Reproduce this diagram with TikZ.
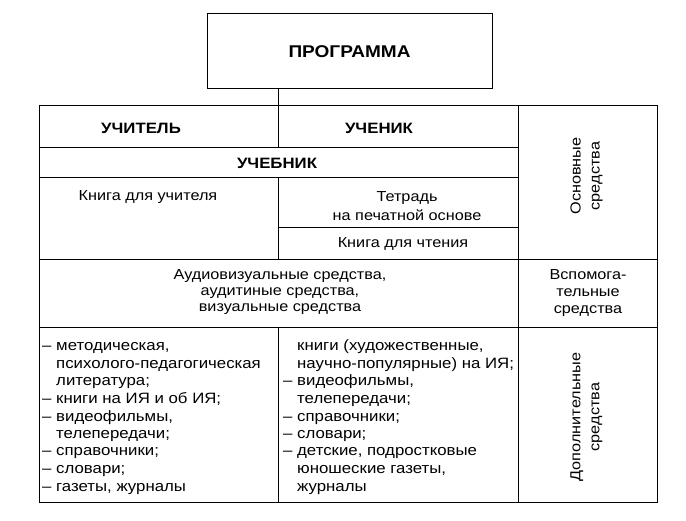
\documentclass[tikz,border=0pt]{standalone}
\usepackage{fontspec}
\setmainfont[FakeStretch=1.12]{Liberation Sans}
\newcommand\dsh{–\ }
\newcommand\ind{\phantom{–\ }}
\begin{document}
\begin{tikzpicture}[x=1pt,y=-1pt,
  ln/.style={line width=1pt,line cap=rect},
  txt/.style={font=\fontsize{14.5}{17}\selectfont,inner sep=0pt,anchor=base},
  lst/.style={font=\fontsize{15}{17}\selectfont,inner sep=0pt,anchor=base west},
  hdr/.style={font=\fontsize{15}{18}\selectfont\bfseries,inner sep=0pt,anchor=base},
  rot/.style={font=\fontsize{14.5}{19}\selectfont,inner sep=0pt,rotate=90,align=center}]
\useasboundingbox[fill=white] (0,0) rectangle (686,521);
% top box
\node[draw,line width=1pt,minimum width=285pt,minimum height=75pt,inner sep=0pt,
      font=\fontsize{17}{20}\selectfont\bfseries] (prog) at (349.5,51.5) {ПРОГРАММА};
\coordinate (ttop) at (278,106);
\draw[ln] (prog.south -| ttop) -- (ttop);
% table grid
\draw[ln] (39,106) rectangle (657,502);
\draw[ln] (518,106) -- (518,502);
\draw[ln] (39,148) -- (518,148);
\draw[ln] (39,178) -- (518,178);
\draw[ln] (278,228) -- (518,228);
\draw[ln] (39,260) -- (657,260);
\draw[ln] (39,328) -- (657,328);
\draw[ln] (278,106) -- (278,148);
\draw[ln] (278,178) -- (278,260);
\draw[ln] (278,328) -- (278,502);
% headers
\node[hdr] (uchitel) at (141,134) {УЧИТЕЛЬ};
\node[hdr] (uchenik) at (379,134) {УЧЕНИК};
\node[hdr] (uchebnik) at (277,169) {УЧЕБНИК};
% cells
\node[txt] (kdu) at (148,201) {Книга для учителя};
\node[txt] (tetr1) at (407,202) {Тетрадь};
\node[txt] (tetr2) at (407,221) {на печатной основе};
\node[txt] (kdch) at (403,248) {Книга для чтения};
\node[txt] (av1) at (280,280) {Аудиовизуальные средства,};
\node[txt] (av2) at (280,296) {аудитиные средства,};
\node[txt] (av3) at (280,312) {визуальные средства};
\node[txt] (vs1) at (588,280) {Вспомога-};
\node[txt] (vs2) at (588,297) {тельные};
\node[txt] (vs3) at (588,314) {средства};
\node[rot] (osn) at (586.5,176) {Основные\\средства};
\node[rot] (dop) at (586.5,417) {Дополнительные\\средства};
% lists
\foreach [count=\i] \t in {{\dsh методическая,},{\ind психолого-педагогическая},{\ind литература;},
  {\dsh книги на ИЯ и об ИЯ;},{\dsh видеофильмы,},{\ind телепередачи;},{\dsh справочники;},
  {\dsh словари;},{\dsh газеты, журналы}}
  \node[lst] (l\i) at (42,351+17.5*\i-17.5) {\t};
\foreach [count=\i] \t in {{\ind книги (художественные,},{\ind научно-популярные) на ИЯ;},
  {\dsh видеофильмы,},{\ind телепередачи;},{\dsh справочники;},{\dsh словари;},
  {\dsh детские, подростковые},{\ind юношеские газеты,},{\ind журналы}}
  \node[lst] (r\i) at (283,351+17.5*\i-17.5) {\t};
\end{tikzpicture}
\end{document}
